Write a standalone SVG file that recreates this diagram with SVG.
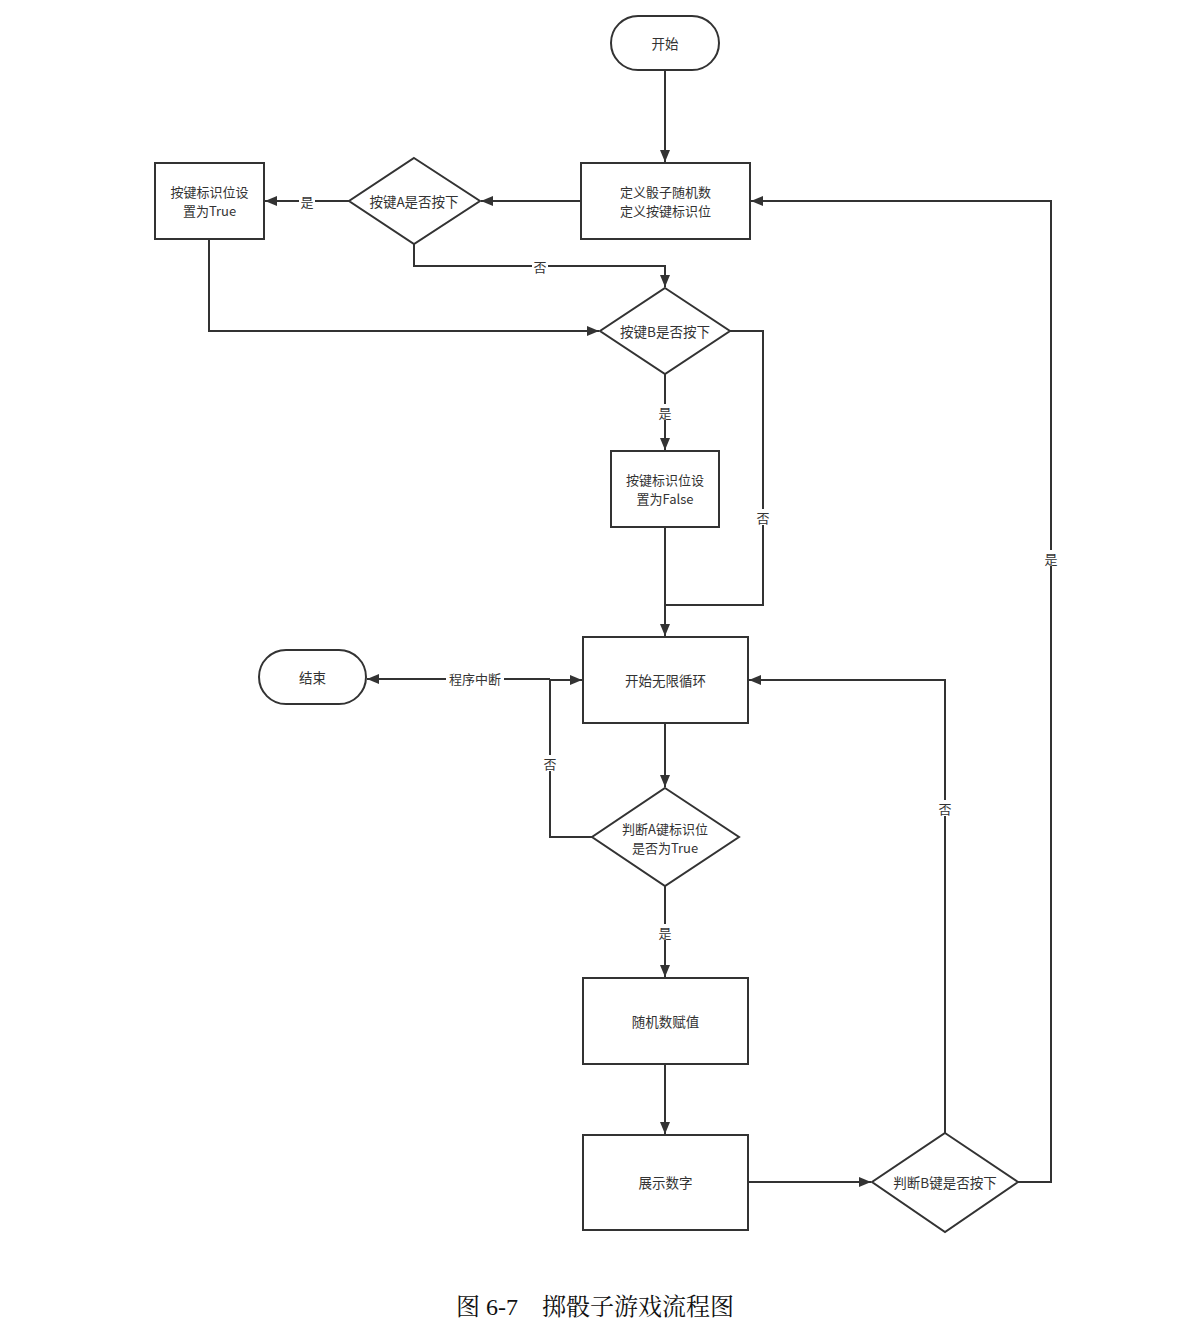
<svg xmlns="http://www.w3.org/2000/svg" width="1189" height="1342" viewBox="0 0 1189 1342">
<style>
.n{fill:#fff;stroke:#333;stroke-width:2}
.c{fill:none;stroke:#333;stroke-width:2}
.t{font-family:"Noto Sans CJK SC","Liberation Sans",sans-serif;font-size:13.5px;fill:#333;text-anchor:middle;dominant-baseline:central}
.t2{font-size:13px}
.l{font-family:"Noto Sans CJK SC","Liberation Sans",sans-serif;font-size:13px;fill:#333;text-anchor:middle;dominant-baseline:central}
.lb{fill:#fff}
.cap{font-family:"Liberation Serif","Noto Serif CJK SC","Noto Sans CJK SC",serif;font-size:24px;fill:#111;text-anchor:middle}
</style>
<defs>
<marker id="a" viewBox="0 0 12 10" refX="12" refY="5" markerWidth="12" markerHeight="10" markerUnits="userSpaceOnUse" orient="auto">
<path d="M0,0 L12,5 L0,10 Z" fill="#333"/>
</marker>
</defs>
<rect width="1189" height="1342" fill="#fff"/>
<g id="connectors">
<path class="c" d="M665,70 V162" marker-end="url(#a)"/>
<path class="c" d="M581,201 H481" marker-end="url(#a)"/>
<path class="c" d="M349,201 H265" marker-end="url(#a)"/>
<path class="c" d="M414,244 V266 H665 V287" marker-end="url(#a)"/>
<path class="c" d="M209,239 V331 H599" marker-end="url(#a)"/>
<path class="c" d="M665,374 V450" marker-end="url(#a)"/>
<path class="c" d="M730,331 H763 V605 H665"/>
<path class="c" d="M665,527 V636" marker-end="url(#a)"/>
<path class="c" d="M665,723 V787" marker-end="url(#a)"/>
<path class="c" d="M592,837 H550 V680 H582" marker-end="url(#a)"/>
<path class="c" d="M550,679 H367" marker-end="url(#a)"/>
<path class="c" d="M665,886 V977" marker-end="url(#a)"/>
<path class="c" d="M665,1064 V1134" marker-end="url(#a)"/>
<path class="c" d="M748,1182 H871" marker-end="url(#a)"/>
<path class="c" d="M945,1133 V680 H749" marker-end="url(#a)"/>
<path class="c" d="M1018,1182 H1051 V201 H751" marker-end="url(#a)"/>
<rect class="lb" x="299" y="193" width="16" height="16"/><text class="l" x="307" y="201">是</text>
<rect class="lb" x="532" y="258" width="16" height="16"/><text class="l" x="540" y="266">否</text>
<rect class="lb" x="657" y="404" width="16" height="16"/><text class="l" x="665" y="412">是</text>
<rect class="lb" x="755" y="509" width="16" height="16"/><text class="l" x="763" y="517">否</text>
<rect class="lb" x="446" y="670" width="58" height="17"/><text class="l" x="475" y="678">程序中断</text>
<rect class="lb" x="542" y="755" width="16" height="16"/><text class="l" x="550" y="763">否</text>
<rect class="lb" x="657" y="924" width="16" height="16"/><text class="l" x="665" y="932">是</text>
<rect class="lb" x="937" y="800" width="16" height="16"/><text class="l" x="945" y="808">否</text>
<rect class="lb" x="1043" y="550" width="16" height="16"/><text class="l" x="1051" y="558">是</text>
</g>
<g id="start"><rect class="n" x="611" y="16" width="108" height="54" rx="27"/><text class="t" x="665" y="43">开始</text></g>
<g id="init"><rect class="n" x="581" y="163" width="169" height="76"/><text class="t t2" x="665.5" y="191">定义骰子随机数</text><text class="t t2" x="665.5" y="210">定义按键标识位</text></g>
<g id="decA"><polygon class="n" points="414,158 480,201 414,244 349,201"/><text class="t" x="414" y="201">按键A是否按下</text></g>
<g id="setTrue"><rect class="n" x="155" y="163" width="109" height="76"/><text class="t t2" x="209.5" y="191">按键标识位设</text><text class="t t2" x="209.5" y="210">置为True</text></g>
<g id="decB"><polygon class="n" points="665,288 730,331 665,374 600,331"/><text class="t" x="665" y="331">按键B是否按下</text></g>
<g id="setFalse"><rect class="n" x="611" y="451" width="108" height="76"/><text class="t t2" x="665" y="479">按键标识位设</text><text class="t t2" x="665" y="498">置为False</text></g>
<g id="loop"><rect class="n" x="583" y="637" width="165" height="86"/><text class="t" x="665.5" y="680">开始无限循环</text></g>
<g id="end"><rect class="n" x="259" y="650" width="107" height="54" rx="27"/><text class="t" x="312.5" y="677">结束</text></g>
<g id="judgeA"><polygon class="n" points="665,788 739,837 665,886 592,837"/><text class="t t2" x="665" y="828">判断A键标识位</text><text class="t t2" x="665" y="847">是否为True</text></g>
<g id="rand"><rect class="n" x="583" y="978" width="165" height="86"/><text class="t" x="665.5" y="1021">随机数赋值</text></g>
<g id="show"><rect class="n" x="583" y="1135" width="165" height="95"/><text class="t" x="665.5" y="1182">展示数字</text></g>
<g id="judgeB"><polygon class="n" points="945,1133 1018,1182 945,1232 872,1182"/><text class="t" x="945" y="1182">判断B键是否按下</text></g>
<text class="cap" x="595" y="1315">图 6-7　掷骰子游戏流程图</text>
</svg>
